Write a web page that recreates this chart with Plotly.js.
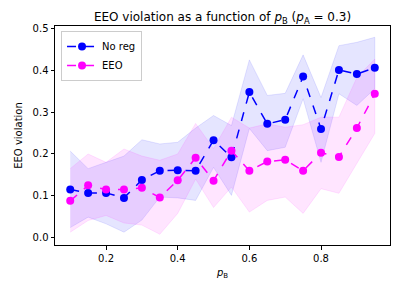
<!DOCTYPE html>
<html>
<head>
<meta charset="utf-8">
<script src="https://cdn.plot.ly/plotly-3.0.1.min.js"></script>
<style>html,body{margin:0;padding:0;background:#fff;}#chart{width:408px;height:288px;}</style>
</head>
<body>
<div id="chart"></div>
<script>
const pB = [0.1,0.15,0.2,0.25,0.3,0.35,0.4,0.45,0.5,0.55,0.6,0.65,0.7,0.75,0.8,0.85,0.9,0.95];
const noRegMean  = [0.115,0.107,0.107,0.095,0.138,0.160,0.161,0.160,0.233,0.192,0.348,0.272,0.282,0.385,0.260,0.401,0.391,0.406];
const noRegUpper = [0.207,0.165,0.180,0.195,0.234,0.224,0.228,0.262,0.292,0.268,0.425,0.340,0.345,0.437,0.335,0.459,0.467,0.479];
const noRegLower = [0.024,0.049,0.033,0.013,0.042,0.097,0.095,0.089,0.168,0.101,0.261,0.208,0.216,0.332,0.180,0.344,0.316,0.356];
const eeoMean  = [0.088,0.125,0.115,0.115,0.119,0.096,0.137,0.191,0.136,0.208,0.160,0.182,0.186,0.160,0.203,0.193,0.262,0.344];
const eeoUpper = [0.165,0.200,0.180,0.212,0.195,0.185,0.200,0.273,0.213,0.288,0.262,0.272,0.264,0.270,0.288,0.288,0.383,0.427];
const eeoLower = [0.013,0.041,0.053,0.035,0.030,0.008,0.058,0.140,0.072,0.121,0.061,0.089,0.097,0.058,0.117,0.106,0.177,0.249];
const xTicks = [0.2,0.4,0.6,0.8];
const yTicks = [0.0,0.1,0.2,0.3,0.4,0.5];

function band(lower, upper, rgb) {
  return {
    x: pB.concat(pB.slice().reverse()),
    y: upper.concat(lower.slice().reverse()),
    type: 'scatter', mode: 'lines', fill: 'toself',
    fillcolor: 'rgba(' + rgb + ',0.1)',
    line: {color: 'rgba(' + rgb + ',0.1)', width: 1},
    showlegend: false, hoverinfo: 'skip'
  };
}
function line(y, color, name) {
  return {
    x: pB, y: y, type: 'scatter', mode: 'lines+markers', name: name,
    line: {color: color, width: 1.5, dash: 'dash'},
    marker: {color: color, size: 8}
  };
}
const data = [
  band(noRegLower, noRegUpper, '0,0,255'),
  band(eeoLower, eeoUpper, '255,0,255'),
  line(noRegMean, '#0000ff', 'No reg'),
  line(eeoMean, '#ff00ff', 'EEO')
];
const axisCommon = {
  showgrid: false, zeroline: false, showline: true, mirror: true,
  linecolor: '#000', linewidth: 1, ticks: 'outside', ticklen: 3.5,
  tickwidth: 1, tickcolor: '#000', tickfont: {size: 10, color: '#000'}
};
const layout = {
  width: 408, height: 288,
  margin: {l: 55, r: 18, t: 26, b: 43, pad: 0},
  paper_bgcolor: '#fff', plot_bgcolor: '#fff',
  font: {family: 'DejaVu Sans, sans-serif', size: 10, color: '#000'},
  title: {
    text: 'EEO violation as a function of <i>p</i><sub>B</sub> (<i>p</i><sub>A</sub> = 0.3)',
    font: {size: 12, color: '#000'},
    xref: 'paper', x: 0.5, xanchor: 'center',
    yref: 'container', y: 1 - 17/288, yanchor: 'middle'
  },
  xaxis: Object.assign({}, axisCommon, {
    range: [0.0575, 0.9925], tickvals: xTicks, ticktext: xTicks.map(v => v.toFixed(1)),
    title: {text: '<i>p</i><sub>B</sub>', font: {size: 10}, standoff: 6}
  }),
  yaxis: Object.assign({}, axisCommon, {
    range: [-0.0176, 0.506], tickvals: yTicks, ticktext: yTicks.map(v => v.toFixed(1)),
    title: {text: 'EEO violation', font: {size: 10}, standoff: 8}
  }),
  legend: {
    x: 0.018, y: 0.977, xanchor: 'left', yanchor: 'top',
    bgcolor: 'rgba(255,255,255,0.8)', bordercolor: '#cccccc', borderwidth: 1,
    font: {size: 10, color: '#000'}, tracegroupgap: 0, itemwidth: 30
  },
  showlegend: true
};
Plotly.newPlot('chart', data, layout, {staticPlot: true, displayModeBar: false});
</script>
</body>
</html>
